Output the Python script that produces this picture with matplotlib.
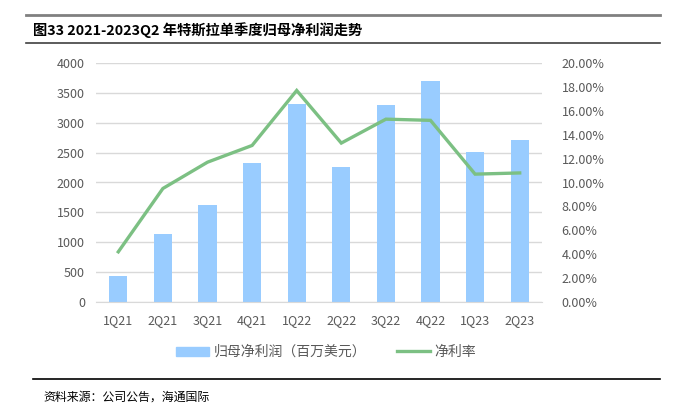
import matplotlib
matplotlib.use("Agg")
import matplotlib.pyplot as plt
from matplotlib.lines import Line2D
from matplotlib.ticker import FuncFormatter

plt.rcParams['font.family'] = ['Noto Sans CJK SC', 'DejaVu Sans']

quarters = ["1Q21", "2Q21", "3Q21", "4Q21", "1Q22", "2Q22", "3Q22", "4Q22", "1Q23", "2Q23"]
net_profit = [438, 1142, 1618, 2321, 3318, 2259, 3292, 3707, 2513, 2703]
net_margin = [4.2, 9.5, 11.7, 13.1, 17.7, 13.3, 15.3, 15.2, 10.7, 10.8]
left_ticks = [0, 500, 1000, 1500, 2000, 2500, 3000, 3500, 4000]
right_ticks = [0, 2, 4, 6, 8, 10, 12, 14, 16, 18, 20]

W, H = 681, 411
fig = plt.figure(figsize=(W / 100, H / 100), dpi=100)

ax = fig.add_axes([96 / W, 1 - 302 / H, (542 - 96) / W, (302 - 63) / H])
x = list(range(len(quarters)))
ax.bar(x, net_profit, width=0.41, color="#99CCFF", zorder=2, label="归母净利润（百万美元）")
ax.set_ylim(0, 4000)
ax.set_yticks(left_ticks)
ax.set_xlim(-0.5, len(quarters) - 0.5)
ax.set_xticks(x)
ax.set_xticklabels(quarters)
ax.grid(axis='y', color="#D9D9D9", linewidth=1, zorder=0)
for s in ax.spines.values():
    s.set_visible(False)
ax.spines['bottom'].set_visible(True)
ax.spines['bottom'].set_color("#D9D9D9")
ax.tick_params(axis='both', length=0, labelsize=9, colors="#595959", pad=8)
ax.tick_params(axis='x', pad=9)

ax2 = ax.twinx()
ax2.plot(x, net_margin, color="#7CC083", linewidth=2.4, zorder=3, solid_joinstyle='miter')
ax2.set_ylim(0, 20)
ax2.set_yticks(right_ticks)
ax2.yaxis.set_major_formatter(FuncFormatter(lambda v, p: f"{v:.2f}%"))
for s in ax2.spines.values():
    s.set_visible(False)
ax2.tick_params(axis='y', length=0, labelsize=9, colors="#595959", pad=14)

handles = [
    plt.Rectangle((0, 0), 1, 1, color="#99CCFF"),
    Line2D([0], [0], color="#7CC083", linewidth=2.4),
]
labels = ["归母净利润（百万美元）", "净利率"]
leg = fig.legend(handles, labels, loc='center', bbox_to_anchor=(326 / W, 1 - 352 / H),
                 ncol=2, frameon=False, fontsize=10, handlelength=2.4, handleheight=0.6,
                 columnspacing=2.2, handletextpad=0.3)
for t in leg.get_texts():
    t.set_color("#595959")

# header / footer rules and text
fig.add_artist(Line2D([26 / W, 660 / W], [1 - 15 / H] * 2, color="#808080", linewidth=2))
fig.add_artist(Line2D([26 / W, 660 / W], [1 - 43 / H] * 2, color="#404040", linewidth=1.2))
fig.add_artist(Line2D([33 / W, 660 / W], [1 - 379 / H] * 2, color="#000000", linewidth=1.2))
fig.text(33 / W, 1 - 30 / H, "图33 2021-2023Q2 年特斯拉单季度归母净利润走势", fontsize=10.3,
         fontweight='bold', va='center', ha='left', color="#000000")
fig.text(43 / W, 1 - 397 / H, "资料来源：公司公告，海通国际", fontsize=8.6,
         va='center', ha='left', color="#000000")

fig.savefig("out.png", dpi=100)
